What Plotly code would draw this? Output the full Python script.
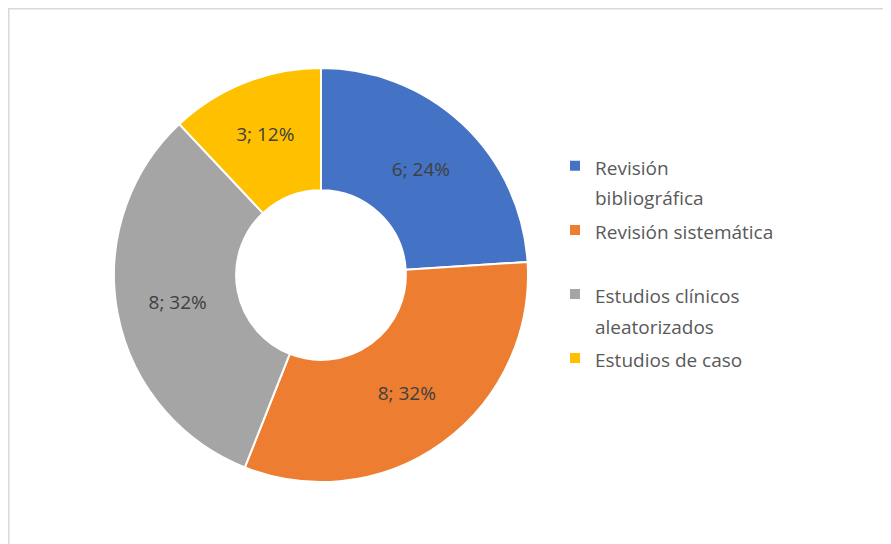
import plotly.graph_objects as go

labels = ["Revisión<br>bibliográfica", "Revisión sistemática<br> ", "Estudios clínicos<br>aleatorizados", "Estudios de caso"]
values = [6, 8, 8, 3]
colors = ["#4472C4", "#ED7D31", "#A5A5A5", "#FFC000"]

W, H = 891, 544
# page body has an 8px margin, so paper coords are page coords minus 8
cx, cy, r = 313, 267, 207

legend_labels = ['<span style="font-size:19px">' + lab + '</span>' for lab in labels]

fig = go.Figure(go.Pie(
    labels=legend_labels,
    values=values,
    hole=0.41,
    sort=False,
    direction="clockwise",
    rotation=0,
    marker=dict(colors=colors, line=dict(color="white", width=2)),
    texttemplate="%{value}; %{percent:.0%}",
    textposition="inside",
    insidetextorientation="horizontal",
    textfont=dict(family="Open Sans", size=19, color="#404040"),
    domain=dict(x=[(cx - r) / W, (cx + r) / W], y=[(H - cy - r) / H, (H - cy + r) / H]),
))

fig.update_layout(
    width=W, height=H,
    margin=dict(l=0, r=0, t=0, b=0),
    paper_bgcolor="white",
    showlegend=True,
    legend=dict(
        x=547 / W, y=1 - 136 / H, xanchor="left", yanchor="top",
        font=dict(family="Open Sans", size=23.5, color="#595959"),
        valign="top",
        itemwidth=30,
        tracegroupgap=0,
    ),
    shapes=[dict(type="rect", xref="paper", yref="paper",
                 x0=0.5 / W, x1=1.05, y0=-0.05, y1=1 - 0.5 / H,
                 line=dict(color="#D9D9D9", width=2))],
)

fig.write_html("out.html")
